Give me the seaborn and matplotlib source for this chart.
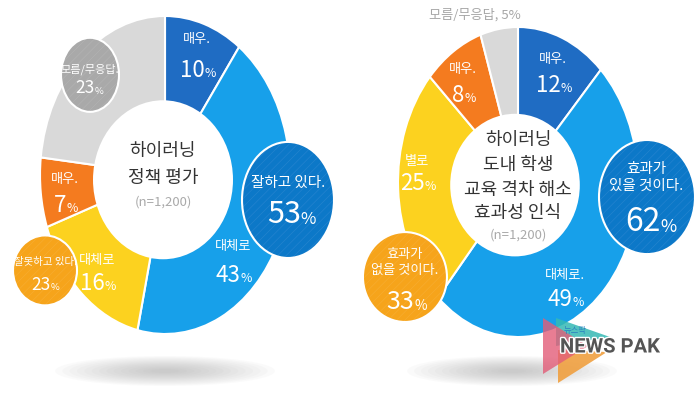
import matplotlib
matplotlib.use("Agg")
import matplotlib.pyplot as plt
import matplotlib.patheffects as pe
import seaborn as sns
from matplotlib.patches import Ellipse, Polygon

# ============================
# DATA
# ============================
left_categories = ["매우 잘하고 있다", "대체로 잘하고 있다", "대체로 잘못하고 있다",
                   "매우 잘못하고 있다", "모름/무응답"]
left_values = [10, 43, 16, 7, 23]
left_ring_text = ["매우.", "대체로", "대체로", "매우.", None]
left_groups = ["잘하고 있다.", "잘못하고 있다.", "모름/무응답."]
left_group_values = [53, 23, 23]
left_title = ["하이러닝", "정책 평가", "(n=1,200)"]

right_categories = ["매우 효과가 있을 것", "대체로 효과가 있을 것", "별로 효과가 없을 것",
                    "매우 효과가 없을 것", "모름/무응답"]
right_values = [12, 49, 25, 8, 5]
right_ring_text = ["매우.", "대체로.", "별로", "매우.", None]
right_groups = ["효과가\n있을 것이다.", "효과가\n없을 것이다."]
right_group_values = [62, 33]
right_title = ["하이러닝", "도내 학생", "교육 격차 해소", "효과성 인식", "(n=1,200)"]

# ============================
# STYLE
# ============================
sns.set_theme(style="white")
plt.rcParams["font.family"] = ["Noto Sans CJK KR", "DejaVu Sans"]
plt.rcParams["hatch.linewidth"] = 0.45

ring_colors = sns.color_palette(["#1f6cc3", "#17a0ea", "#fcd21f", "#f47b1f", "#d9d9d9"])
W, H = 700, 397

fig = plt.figure(figsize=(7, 3.97), dpi=100)
fig.patch.set_facecolor("white")

# background axes in pixel space (shadows)
bg = fig.add_axes([0, 0, 1, 1])
bg.set_xlim(0, W)
bg.set_ylim(H, 0)
bg.axis("off")
for cx, cy, ww, hh in [(165, 371, 220, 30), (512, 371, 210, 30)]:
    for i in range(14):
        k = 1 - i / 15
        bg.add_patch(Ellipse((cx, cy), ww * k, hh * k, fc="#9a9a9a", ec="none", alpha=0.045))


def donut_axes(cx, cy, rx, ry, span=1.7):
    ax = fig.add_axes([(cx - span * rx) / W, (H - cy - span * ry) / H,
                       2 * span * rx / W, 2 * span * ry / H])
    return ax, span


def finish(ax, span):
    ax.set_aspect("auto")
    ax.set_xlim(-span, span)
    ax.set_ylim(-span, span)
    ax.axis("off")


def pct(ax, x, y, value, size, color="white"):
    t = ax.text(x, y, str(value), fontsize=size, color=color, ha="center", va="center",
                fontweight="light", zorder=10, clip_on=False)
    ax.annotate("%", xy=(1.0, 0.08), xycoords=t, fontsize=size * 0.55, color=color,
                ha="left", va="bottom", fontweight="light", zorder=10)


def label(ax, x, y, s, size=9.5, color="white"):
    ax.text(x, y, s, fontsize=size, color=color, ha="center", va="center",
            fontweight="light", zorder=10, clip_on=False, linespacing=1.3)


def bubble(ax, x, y, hw, hh, color, stripe):
    ax.add_patch(Ellipse((x, y), 2 * hw, 2 * hh, facecolor=color, edgecolor=stripe,
                         hatch="////", lw=0, zorder=6, clip_on=False))
    ax.add_patch(Ellipse((x, y), 2 * hw, 2 * hh, facecolor="none", edgecolor="white",
                         lw=1.5, zorder=7, clip_on=False))


# ============================
# LEFT DONUT
# ============================
axl, sp = donut_axes(165, 175, 125, 159)
axl.pie(left_values, colors=ring_colors, startangle=90, counterclock=False, radius=1,
        wedgeprops=dict(edgecolor="white", linewidth=1.5))
axl.add_patch(Ellipse((-0.016, -0.03), 1.12, 1.0, fc="white", ec="none", zorder=3))
finish(axl, sp)

ring_pos_l = [(0.256, 0.85, 0.66), (0.544, -0.45, -0.63), (-0.544, -0.535, -0.68),
              (-0.8, -0.03, -0.19), None]
for txt, val, pos in zip(left_ring_text, left_values, ring_pos_l):
    if pos is None:
        continue
    label(axl, pos[0], pos[1], txt)
    pct(axl, pos[0] - 0.04, pos[2], val, 16)

# callout bubbles
bubble(axl, 0.984, -0.157, 0.368, 0.365, "#0c78c8", "#2584cf")
label(axl, 0.984, -0.05, left_groups[0], 10.5)
pct(axl, 0.95, -0.25, left_group_values[0], 22)

bubble(axl, -0.96, -0.6, 0.256, 0.22, "#f6a41b", "#f7ad30")
label(axl, -0.96, -0.545, left_groups[1], 7.5)
pct(axl, -0.99, -0.69, left_group_values[1], 12.5)

bubble(axl, -0.6, 0.63, 0.232, 0.233, "#a9a9a9", "#b3b3b3")
label(axl, -0.6, 0.665, left_groups[2], 8)
pct(axl, -0.64, 0.545, left_group_values[2], 12.5)

label(axl, -0.016, 0.15, left_title[0], 13, "#333333")
label(axl, -0.016, -0.02, left_title[1], 13, "#333333")
label(axl, -0.016, -0.17, left_title[2], 9.5, "#aaaaaa")

# ============================
# RIGHT DONUT
# ============================
axr, sp = donut_axes(518, 182, 120, 155)
axr.pie(right_values, colors=ring_colors, startangle=90, counterclock=False, radius=1,
        wedgeprops=dict(edgecolor="white", linewidth=1.5))
axr.add_patch(Ellipse((-0.025, -0.02), 1.08, 0.92, fc="white", ec="none", zorder=3))
finish(axr, sp)

ring_pos_r = [(0.292, 0.79, 0.625), (0.392, -0.6, -0.76), (-0.842, 0.13, -0.01),
              (-0.458, 0.725, 0.56), None]
for txt, val, pos in zip(right_ring_text, right_values, ring_pos_r):
    if pos is None:
        continue
    label(axr, pos[0], pos[1], txt)
    pct(axr, pos[0] - 0.04, pos[2], val, 16)

label(axr, -0.36, 1.08, f"모름/무응답, {right_values[4]}%", 9.5, "#a6a6a6")

bubble(axr, 1.075, -0.097, 0.4, 0.368, "#0c78c8", "#2584cf")
label(axr, 1.07, 0.03, right_groups[0], 10.5)
pct(axr, 1.04, -0.26, right_group_values[0], 23)

bubble(axr, -0.942, -0.613, 0.35, 0.29, "#f6a41b", "#f7ad30")
label(axr, -0.942, -0.52, right_groups[1], 9.5)
pct(axr, -0.98, -0.775, right_group_values[1], 18)

for txt, yy in zip(right_title, [0.27, 0.11, -0.05, -0.2, -0.34]):
    label(axr, 0.0, yy, txt, 13 if not txt.startswith("(") else 9.5,
          "#333333" if not txt.startswith("(") else "#aaaaaa")

# ============================
# LOGO OVERLAY
# ============================
top = fig.add_axes([0, 0, 1, 1])
top.set_xlim(0, W)
top.set_ylim(H, 0)
top.axis("off")
top.add_patch(Polygon([(556, 318), (610, 337), (556, 346)], fc="#35b9b4", ec="none", alpha=0.85))
top.add_patch(Polygon([(558, 383), (558, 350), (607, 352)], fc="#f0a040", ec="none", alpha=0.9))
top.add_patch(Polygon([(543, 318), (543, 374), (588, 346)], fc="#e35d78", ec="none", alpha=0.8))
top.text(564, 331, "뉴스팍", fontsize=6, color="#2a7fc0", ha="left", va="center")
top.text(560, 347, "NEWS PAK", fontsize=14.5, fontweight="bold", color="#555555",
         family=["Roboto", "DejaVu Sans"], ha="left", va="center",
         path_effects=[pe.withStroke(linewidth=2, foreground="white")])

fig.savefig("out.png", dpi=100, facecolor="white")
